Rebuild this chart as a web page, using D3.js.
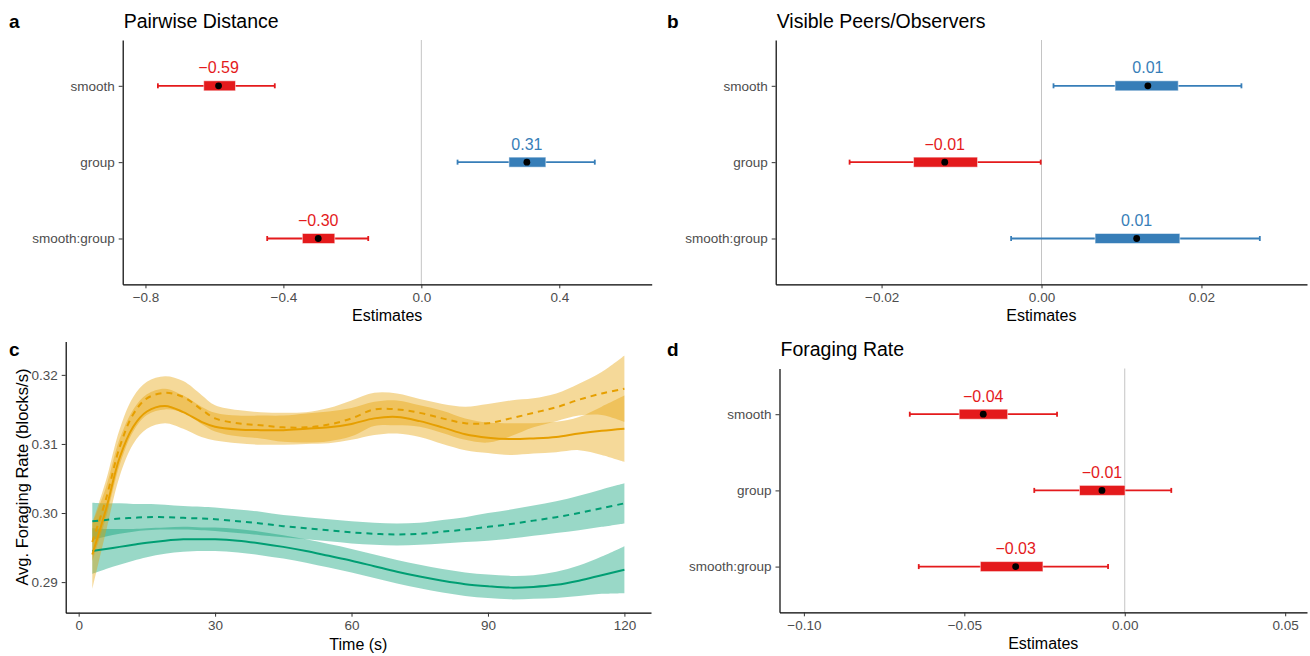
<!DOCTYPE html>
<html>
<head>
<meta charset="utf-8">
<script src="https://cdn.jsdelivr.net/npm/d3@7"></script>
<style>
	body { margin: 0; background: #fff; }
	svg { display: block; font-family: "Liberation Sans", Arial, sans-serif; }
</style>
</head>
<body>
<script>
// --- DATA --- //
var terms = ["smooth", "group", "smooth:group"];

// a: Pairwise Distance (estimate, 95% and 50% intervals)
var distEst  = [-0.588, 0.306, -0.299],
	distLo95 = [-0.764, 0.105, -0.447],
	distHi95 = [-0.425, 0.503, -0.154],
	distLo50 = [-0.631, 0.254, -0.345],
	distHi50 = [-0.539, 0.361, -0.251],
	distTicks = [-0.8, -0.4, 0, 0.4];

// b: Visible Peers/Observers
var peerEst  = [0.0133, -0.0121, 0.0119],
	peerLo95 = [0.0015, -0.0240, -0.0038],
	peerHi95 = [0.0250, -0.0001, 0.0273],
	peerLo50 = [0.0092, -0.0160, 0.0067],
	peerHi50 = [0.0171, -0.0080, 0.0173],
	peerTicks = [-0.02, 0, 0.02];

// d: Foraging Rate
var rateEst  = [-0.0441, -0.0071, -0.0340],
	rateLo95 = [-0.0670, -0.0282, -0.0642],
	rateHi95 = [-0.0211, 0.0145, -0.0052],
	rateLo50 = [-0.0516, -0.0141, -0.0450],
	rateHi50 = [-0.0365, 0.0001, -0.0255],
	rateTicks = [-0.10, -0.05, 0, 0.05];

// c: foraging rate over time (smooth fits with ribbons)
var timeS = [3, 6, 9, 12, 15, 19, 23, 27, 30, 35, 40, 45, 50, 55, 60, 65, 70, 75, 80, 85, 90, 95, 100, 105, 110, 115, 120];

var orangeSolid   = [0.2940, 0.3005, 0.3080, 0.3125, 0.3147, 0.3155, 0.3146, 0.3132, 0.3125, 0.3121, 0.3120, 0.3120, 0.3122, 0.3124, 0.3129, 0.3137, 0.3139, 0.3133, 0.3124, 0.3114, 0.3109, 0.3107, 0.3108, 0.3110, 0.3115, 0.3119, 0.3122],
	orangeSolidLo = [0.2890, 0.2973, 0.3053, 0.3100, 0.3122, 0.3130, 0.3122, 0.3110, 0.3105, 0.3101, 0.3099, 0.3099, 0.3100, 0.3101, 0.3106, 0.3113, 0.3115, 0.3110, 0.3100, 0.3091, 0.3087, 0.3084, 0.3086, 0.3088, 0.3091, 0.3084, 0.3074],
	orangeSolidHi = [0.2985, 0.3037, 0.3107, 0.3150, 0.3172, 0.3180, 0.3170, 0.3154, 0.3145, 0.3141, 0.3141, 0.3141, 0.3144, 0.3147, 0.3152, 0.3161, 0.3163, 0.3156, 0.3148, 0.3137, 0.3131, 0.3130, 0.3130, 0.3132, 0.3139, 0.3154, 0.3170];

var orangeDash   = [0.2958, 0.3020, 0.3095, 0.3143, 0.3166, 0.3174, 0.3168, 0.3150, 0.3137, 0.3130, 0.3127, 0.3124, 0.3124, 0.3128, 0.3137, 0.3150, 0.3150, 0.3145, 0.3137, 0.3130, 0.3130, 0.3137, 0.3145, 0.3153, 0.3164, 0.3173, 0.3180],
	orangeDashLo = [0.2930, 0.2993, 0.3069, 0.3118, 0.3142, 0.3150, 0.3145, 0.3129, 0.3118, 0.3111, 0.3108, 0.3103, 0.3102, 0.3104, 0.3111, 0.3126, 0.3127, 0.3125, 0.3116, 0.3106, 0.3102, 0.3111, 0.3124, 0.3133, 0.3141, 0.3142, 0.3132],
	orangeDashHi = [0.2986, 0.3047, 0.3121, 0.3168, 0.3190, 0.3198, 0.3191, 0.3171, 0.3156, 0.3149, 0.3146, 0.3145, 0.3146, 0.3152, 0.3163, 0.3174, 0.3173, 0.3165, 0.3158, 0.3154, 0.3158, 0.3163, 0.3166, 0.3173, 0.3187, 0.3204, 0.3228];

var greenSolid   = [0.2945, 0.2948, 0.2951, 0.2954, 0.2957, 0.2960, 0.2962, 0.2962, 0.2962, 0.2960, 0.2956, 0.2951, 0.2945, 0.2938, 0.2931, 0.2923, 0.2915, 0.2908, 0.2902, 0.2897, 0.2894, 0.2892, 0.2893, 0.2896, 0.2902, 0.2910, 0.2918],
	greenSolidLo = [0.2912, 0.2919, 0.2925, 0.2931, 0.2936, 0.2941, 0.2944, 0.2945, 0.2945, 0.2943, 0.2939, 0.2934, 0.2928, 0.2921, 0.2914, 0.2906, 0.2898, 0.2891, 0.2885, 0.2880, 0.2877, 0.2875, 0.2876, 0.2877, 0.2880, 0.2883, 0.2884],
	greenSolidHi = [0.2978, 0.2977, 0.2977, 0.2977, 0.2978, 0.2979, 0.2980, 0.2979, 0.2979, 0.2977, 0.2973, 0.2968, 0.2962, 0.2955, 0.2948, 0.2940, 0.2932, 0.2925, 0.2919, 0.2914, 0.2911, 0.2909, 0.2910, 0.2915, 0.2924, 0.2937, 0.2952];

var greenDash   = [0.2988, 0.2990, 0.2992, 0.2993, 0.2994, 0.2994, 0.2993, 0.2992, 0.2991, 0.2988, 0.2985, 0.2981, 0.2978, 0.2975, 0.2972, 0.2970, 0.2969, 0.2970, 0.2973, 0.2976, 0.2980, 0.2984, 0.2989, 0.2994, 0.3000, 0.3007, 0.3014],
	greenDashLo = [0.2961, 0.2966, 0.2970, 0.2973, 0.2975, 0.2976, 0.2976, 0.2975, 0.2974, 0.2971, 0.2968, 0.2965, 0.2962, 0.2959, 0.2956, 0.2954, 0.2953, 0.2954, 0.2956, 0.2958, 0.2960, 0.2963, 0.2967, 0.2971, 0.2975, 0.2980, 0.2985],
	greenDashHi = [0.3015, 0.3014, 0.3014, 0.3013, 0.3013, 0.3012, 0.3010, 0.3009, 0.3008, 0.3005, 0.3002, 0.2997, 0.2994, 0.2991, 0.2988, 0.2986, 0.2985, 0.2986, 0.2990, 0.2994, 0.3000, 0.3005, 0.3011, 0.3017, 0.3025, 0.3034, 0.3043];

var timeTicks = [0, 30, 60, 90, 120],
	rateYTicks = [0.29, 0.30, 0.31, 0.32];

var red = "#E41A1C", blue = "#377EB8",
	orange = "#E69F00", green = "#009E73";

var svg = d3.select("body").append("svg")
	.attr("width", 1310)
	.attr("height", 656);

// Style an axis group like ggplot's theme_classic
function styleAxis(g) {
	g.select(".domain").attr("stroke", "#000").attr("stroke-width", 1.2);
	g.selectAll(".tick line").attr("stroke", "#333").attr("stroke-width", 1);
	g.selectAll(".tick text").attr("fill", "#4d4d4d").style("font-size", "13.5px");
}

function panelLabel(letter, x, y) {
	svg.append("text").attr("x", x).attr("y", y)
		.style("font-size", "19px").style("font-weight", "bold")
		.text(letter);
}

// --- FOREST PANELS --- //
function forestPanel(box, title, domain, ticks, fmt, est, lo95, hi95, lo50, hi50) {
	var x = d3.scaleLinear().domain(domain).range([box.left, box.right]),
		y = d3.scalePoint().domain(terms).range([box.top, box.bottom]).padding(0.6),
		g = svg.append("g");

	// zero reference line
	g.append("line")
		.attr("x1", x(0)).attr("x2", x(0))
		.attr("y1", box.top).attr("y2", box.bottom)
		.attr("stroke", "#bdbdbd").attr("stroke-width", 0.9);

	var rows = g.selectAll(".row").data(terms).enter().append("g")
		.attr("class", "row")
		.attr("transform", function(d) { return "translate(0," + y(d) + ")"; });

	function col(i) { return est[i] < 0 ? red : blue; }

	rows.append("line")
		.attr("x1", function(d, i) { return x(lo95[i]); })
		.attr("x2", function(d, i) { return x(hi95[i]); })
		.attr("stroke", function(d, i) { return col(i); })
		.attr("stroke-width", 1.8);

	// little end caps
	[lo95, hi95].forEach(function(arr) {
		rows.append("line")
			.attr("x1", function(d, i) { return x(arr[i]); })
			.attr("x2", function(d, i) { return x(arr[i]); })
			.attr("y1", -2.5).attr("y2", 2.5)
			.attr("stroke", function(d, i) { return col(i); })
			.attr("stroke-width", 1.8);
	});

	rows.append("rect")
		.attr("x", function(d, i) { return x(lo50[i]); })
		.attr("width", function(d, i) { return x(hi50[i]) - x(lo50[i]); })
		.attr("y", -5).attr("height", 10)
		.attr("fill", function(d, i) { return col(i); })
		.attr("stroke", "#fff").attr("stroke-opacity", 0.5).attr("stroke-width", 1);

	rows.append("circle")
		.attr("cx", function(d, i) { return x(est[i]); })
		.attr("r", 3.4)
		.attr("fill", "#000");

	rows.append("text")
		.attr("x", function(d, i) { return x(est[i]); })
		.attr("y", -12.5)
		.attr("text-anchor", "middle")
		.attr("fill", function(d, i) { return col(i); })
		.style("font-size", "16px")
		.text(function(d, i) { return d3.format(".2f")(est[i]); });

	g.append("g")
		.attr("transform", "translate(0," + box.bottom + ")")
		.call(d3.axisBottom(x).tickValues(ticks).tickFormat(d3.format(fmt))
			.tickSize(4).tickPadding(4).tickSizeOuter(0))
		.call(styleAxis);

	g.append("g")
		.attr("transform", "translate(" + box.left + ",0)")
		.call(d3.axisLeft(y).tickSize(4).tickPadding(4).tickSizeOuter(0))
		.call(styleAxis);

	g.append("text")
		.attr("x", (box.left + box.right) / 2)
		.attr("y", box.bottom + 37)
		.attr("text-anchor", "middle")
		.style("font-size", "16px")
		.text("Estimates");

	g.append("text")
		.attr("x", box.left + 1)
		.attr("y", box.top - 12.5)
		.style("font-size", "19.5px")
		.text(title);
}

forestPanel({left: 122.7, right: 651.7, top: 40, bottom: 284.3}, "Pairwise Distance",
	[-0.866, 0.668], distTicks, ".1f", distEst, distLo95, distHi95, distLo50, distHi50);
forestPanel({left: 775.7, right: 1307, top: 40, bottom: 284.3}, "Visible Peers/Observers",
	[-0.03324, 0.0332], peerTicks, ".2f", peerEst, peerLo95, peerHi95, peerLo50, peerHi50);
forestPanel({left: 779.5, right: 1307, top: 368.5, bottom: 612.3}, "Foraging Rate",
	[-0.1076, 0.0568], rateTicks, ".2f", rateEst, rateLo95, rateHi95, rateLo50, rateHi50);

panelLabel("a", 9, 27.5);
panelLabel("b", 667, 27.5);
panelLabel("c", 9, 356);
panelLabel("d", 667, 356);

// --- TIME COURSE PANEL (c) --- //
(function() {
	var box = {left: 65.7, right: 651, top: 341.5, bottom: 612.7},
		x = d3.scaleLinear().domain([-2.85, 125.85]).range([box.left, box.right]),
		y = d3.scaleLinear().domain([0.28557, 0.32483]).range([box.bottom, box.top]),
		g = svg.append("g");

	var series = [
		{ color: green,  mean: greenSolid,  lo: greenSolidLo,  hi: greenSolidHi,  dash: null },
		{ color: green,  mean: greenDash,   lo: greenDashLo,   hi: greenDashHi,   dash: "6,5" },
		{ color: orange, mean: orangeSolid, lo: orangeSolidLo, hi: orangeSolidHi, dash: null },
		{ color: orange, mean: orangeDash,  lo: orangeDashLo,  hi: orangeDashHi,  dash: "6,5" }
	];

	var area = d3.area()
		.x(function(d, i) { return x(timeS[i]); })
		.y0(function(d) { return y(d[0]); })
		.y1(function(d) { return y(d[1]); })
		.curve(d3.curveCatmullRom);

	var line = d3.line()
		.x(function(d, i) { return x(timeS[i]); })
		.y(function(d) { return y(d); })
		.curve(d3.curveCatmullRom);

	// ribbons first, then lines on top
	series.forEach(function(s) {
		g.append("path")
			.attr("d", area(timeS.map(function(t, i) { return [s.lo[i], s.hi[i]]; })))
			.attr("fill", s.color)
			.attr("fill-opacity", 0.4);
	});
	series.forEach(function(s) {
		g.append("path")
			.attr("d", line(s.mean))
			.attr("fill", "none")
			.attr("stroke", s.color)
			.attr("stroke-width", 2)
			.attr("stroke-dasharray", s.dash);
	});

	g.append("g")
		.attr("transform", "translate(0," + box.bottom + ")")
		.call(d3.axisBottom(x).tickValues(timeTicks).tickSize(4).tickPadding(4).tickSizeOuter(0))
		.call(styleAxis);

	g.append("g")
		.attr("transform", "translate(" + box.left + ",0)")
		.call(d3.axisLeft(y).tickValues(rateYTicks).tickFormat(d3.format(".2f"))
			.tickSize(4).tickPadding(4).tickSizeOuter(0))
		.call(styleAxis);

	g.append("text")
		.attr("x", (box.left + box.right) / 2)
		.attr("y", 650)
		.attr("text-anchor", "middle")
		.style("font-size", "16px")
		.text("Time (s)");

	g.append("text")
		.attr("transform", "translate(28," + ((box.top + box.bottom) / 2) + ") rotate(-90)")
		.attr("text-anchor", "middle")
		.style("font-size", "16.5px")
		.text("Avg. Foraging Rate (blocks/s)");
})();
</script>
</body>
</html>
